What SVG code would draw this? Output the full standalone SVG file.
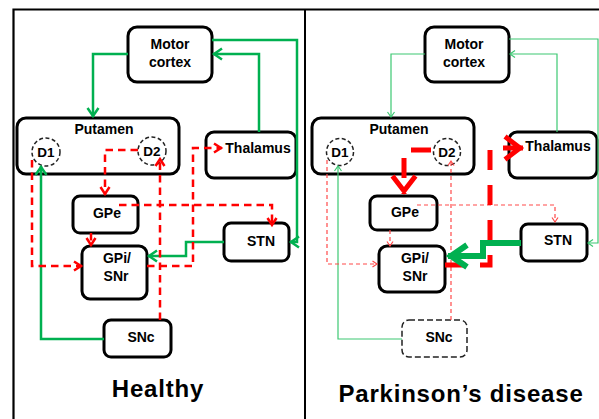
<svg xmlns="http://www.w3.org/2000/svg" width="599" height="419" viewBox="0 0 599 419">
  <style>
    .box { fill: #ffffff; stroke: #000000; stroke-width: 3; }
    .box-dash { fill: #ffffff; stroke: #222222; stroke-width: 1.5; stroke-dasharray: 6 3; }
    .rec { fill: #ffffff; stroke: #222222; stroke-width: 1.5; stroke-dasharray: 4 2.5; }
    .lbl { font-family: "Liberation Sans", Arial, sans-serif; font-weight: bold; font-size: 14px; fill: #000000; text-anchor: middle; }
    .rlbl { font-size: 13.5px; }
    .title { font-family: "Liberation Sans", Arial, sans-serif; font-weight: bold; font-size: 24px; fill: #000000; text-anchor: middle; letter-spacing: 0.8px; }
    .frame { fill: none; stroke: #000000; }
    .g { fill: none; stroke: #00b050; stroke-width: 2.5; }
    .r { fill: none; stroke: #ff0000; stroke-width: 2.5; stroke-dasharray: 7.5 5; }
    .gt { fill: none; stroke: #3cc872; stroke-width: 1.2; }
    .rt { fill: none; stroke: #ff4a4a; stroke-width: 1.2; stroke-dasharray: 4 3; }
    .gT { fill: none; stroke: #00b050; stroke-width: 6; }
    .rT { fill: none; stroke: #ff0000; stroke-width: 5; stroke-dasharray: 20 15; }
  </style>
  <defs>
    <marker id="aG" markerUnits="userSpaceOnUse" viewBox="-20 -15 30 30" refX="0" refY="0" markerWidth="30" markerHeight="30" orient="auto" overflow="visible">
      <path d="M-9,-5.5 L-1,0 L-9,5.5" fill="none" stroke="#00b050" stroke-width="2.5"/>
    </marker>
    <marker id="aR" markerUnits="userSpaceOnUse" viewBox="-20 -15 30 30" refX="0" refY="0" markerWidth="30" markerHeight="30" orient="auto" overflow="visible">
      <path d="M-8,-4.5 L-1,0 L-8,4.5" fill="none" stroke="#ff0000" stroke-width="2.5"/>
    </marker>
    <marker id="aGt" markerUnits="userSpaceOnUse" viewBox="-20 -15 30 30" refX="0" refY="0" markerWidth="30" markerHeight="30" orient="auto" overflow="visible">
      <path d="M-5,-3.5 L0,0 L-5,3.5" fill="none" stroke="#3cc872" stroke-width="1.2"/>
    </marker>
    <marker id="aRt" markerUnits="userSpaceOnUse" viewBox="-20 -15 30 30" refX="0" refY="0" markerWidth="30" markerHeight="30" orient="auto" overflow="visible">
      <path d="M-4.5,-3 L0,0 L-4.5,3" fill="none" stroke="#ff4a4a" stroke-width="1.2"/>
    </marker>
    <marker id="aRT" markerUnits="userSpaceOnUse" viewBox="-30 -20 40 40" refX="0" refY="0" markerWidth="40" markerHeight="40" orient="auto" overflow="visible">
      <path d="M-18,-11.5 L-3,0 L-18,11.5" fill="none" stroke="#ff0000" stroke-width="5"/>
    </marker>
    <marker id="aGT" markerUnits="userSpaceOnUse" viewBox="-30 -20 40 40" refX="0" refY="0" markerWidth="40" markerHeight="40" orient="auto" overflow="visible">
      <path d="M-19,-11 L-3,0 L-19,11" fill="none" stroke="#00b050" stroke-width="6"/>
    </marker>
  </defs>

  <rect x="0" y="0" width="599" height="419" fill="#ffffff"/>

  <!-- panel frame -->
  <g id="frame">
    <path class="frame" d="M13.5,419 V9.5 H599" stroke-width="2.2"/>
    <path class="frame" d="M305,9.5 V419" stroke-width="2"/>
  </g>

  <!-- ===== Healthy panel ===== -->
  <g id="h-motor">
    <rect class="box" x="128" y="27" width="84" height="55" rx="9"/>
    <text class="lbl" x="170" y="49">Motor</text>
    <text class="lbl" x="170" y="67">cortex</text>
  </g>
  <g id="h-putamen">
    <rect class="box" x="17" y="118" width="162" height="56" rx="9"/>
    <text class="lbl" x="104" y="134">Putamen</text>
  </g>
  <g id="h-d1">
    <circle class="rec" cx="46" cy="152" r="14"/>
    <text class="lbl rlbl" x="46" y="157">D1</text>
  </g>
  <g id="h-d2">
    <circle class="rec" cx="152" cy="151" r="14"/>
    <text class="lbl rlbl" x="152" y="156">D2</text>
  </g>
  <g id="h-thalamus">
    <rect class="box" x="206" y="132" width="90" height="46" rx="8"/>
    <text class="lbl" x="258" y="153">Thalamus</text>
  </g>
  <g id="h-gpe">
    <rect class="box" x="73" y="196" width="65" height="37" rx="7"/>
    <text class="lbl" x="107" y="218">GPe</text>
  </g>
  <g id="h-gpi">
    <rect class="box" x="82" y="246" width="65" height="53" rx="8"/>
    <text class="lbl" x="117" y="263">GPi/</text>
    <text class="lbl" x="116" y="281">SNr</text>
  </g>
  <g id="h-stn">
    <rect class="box" x="224" y="223" width="65" height="38" rx="7"/>
    <text class="lbl" x="261" y="246">STN</text>
  </g>
  <g id="h-snc">
    <rect class="box" x="104" y="320" width="67" height="37" rx="7"/>
    <text class="lbl" x="141" y="342">SNc</text>
  </g>
  <text class="title" x="158" y="397">Healthy</text>

  <!-- ===== Parkinson's panel ===== -->
  <g id="p-motor">
    <rect class="box" x="425" y="27" width="84" height="55" rx="9"/>
    <text class="lbl" x="464" y="49">Motor</text>
    <text class="lbl" x="464" y="67">cortex</text>
  </g>
  <g id="p-putamen">
    <rect class="box" x="312" y="118" width="162" height="56" rx="9"/>
    <text class="lbl" x="399" y="134">Putamen</text>
  </g>
  <g id="p-d1">
    <circle class="rec" cx="340" cy="152" r="13.5"/>
    <text class="lbl rlbl" x="340" y="157">D1</text>
  </g>
  <g id="p-d2">
    <circle class="rec" cx="447" cy="152" r="13.5"/>
    <text class="lbl rlbl" x="447" y="157">D2</text>
  </g>
  <g id="p-thalamus">
    <rect class="box" x="509" y="132" width="88" height="46" rx="8"/>
    <text class="lbl" x="558" y="151">Thalamus</text>
  </g>
  <g id="p-gpe">
    <rect class="box" x="370" y="196" width="67" height="34" rx="7"/>
    <text class="lbl" x="405" y="217">GPe</text>
  </g>
  <g id="p-gpi">
    <rect class="box" x="379" y="246" width="66" height="46" rx="8"/>
    <text class="lbl" x="415" y="263">GPi/</text>
    <text class="lbl" x="415" y="281">SNr</text>
  </g>
  <g id="p-stn">
    <rect class="box" x="521" y="224" width="66" height="37" rx="7"/>
    <text class="lbl" x="558" y="245">STN</text>
  </g>
  <g id="p-snc">
    <rect class="box-dash" x="402" y="320" width="65" height="37" rx="7"/>
    <text class="lbl" x="439" y="342">SNc</text>
  </g>
  <text class="title" x="461" y="402">Parkinson’s disease</text>

  <!-- connectors -->
  <g id="connectors">
    <!-- healthy: excitatory (green) -->
    <path class="g" d="M128,54 H93 V117" marker-end="url(#aG)"/>
    <path class="g" d="M212,40 H297 V242 H290" marker-end="url(#aG)"/>
    <path class="g" d="M259,132 V54 H213" marker-end="url(#aG)"/>
    <path class="g" d="M104,339 H41 V166" marker-end="url(#aG)"/>
    <path class="g" d="M224,242 H186 V256 H148" marker-end="url(#aG)"/>
    <!-- healthy: inhibitory (red dashed) -->
    <path class="r" d="M138,150 H105 V195" marker-end="url(#aR)"/>
    <path class="r" d="M160,320 V158" marker-end="url(#aR)"/>
    <path class="r" d="M32,160 V266 H82" marker-end="url(#aR)"/>
    <path class="r" d="M119,205 H272 V226" marker-end="url(#aR)"/>
    <path class="r" d="M91,233 V246" marker-end="url(#aR)"/>
    <path class="r" d="M147,266 H193 V148 H222" marker-end="url(#aR)"/>

    <!-- parkinson: weakened pathways -->
    <path class="gt" d="M425,54 H391 V117" marker-end="url(#aGt)"/>
    <path class="gt" d="M509,39 H598 V243 H588" marker-end="url(#aGt)"/>
    <path class="gt" d="M557,132 V54 H510" marker-end="url(#aGt)"/>
    <path class="gt" d="M402,339 H338 V166" marker-end="url(#aGt)"/>
    <path class="rt" d="M327,160 V264 H377" marker-end="url(#aRt)"/>
    <path class="rt" d="M451,320 V161" marker-end="url(#aRt)"/>
    <path class="rt" d="M417,205 H555 V222" marker-end="url(#aRt)"/>
    <path class="rt" d="M390,230 V246" marker-end="url(#aRt)"/>
    <!-- parkinson: strengthened pathways -->
    <path class="rT" d="M431,150 H404 V194" marker-end="url(#aRT)"/>
    <path class="rT" d="M445,265 H490 V148 H523" marker-end="url(#aRT)"/>
    <path class="gT" d="M521,243 H483 V256 H448" marker-end="url(#aGT)"/>
  </g>
</svg>
